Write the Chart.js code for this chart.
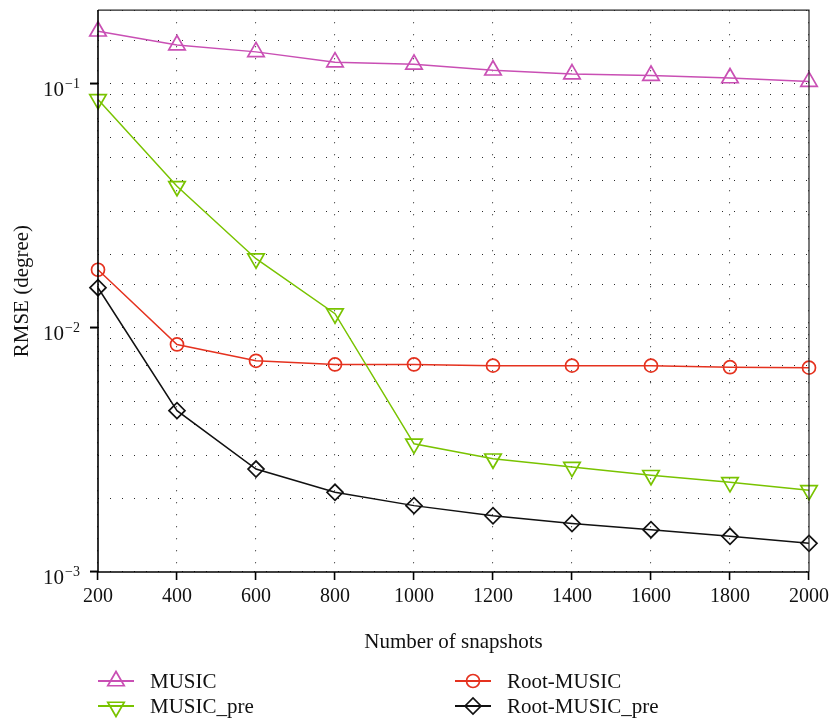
<!DOCTYPE html>
<html>
<head>
<meta charset="utf-8">
<title>RMSE vs number of snapshots</title>
<script src="https://cdn.jsdelivr.net/npm/chart.js@4.4.0/dist/chart.umd.min.js"></script>
<style>
    html, body { margin: 0; padding: 0; background: #fff; }
    #wrap { width: 834px; height: 720px; }
</style>
</head>
<body>
<div id="wrap"><canvas id="rmse-chart" width="834" height="720"></canvas></div>
<script>
// Datos: RMSE (grados) frente al número de snapshots
const snapshots = [200, 400, 600, 800, 1000, 1200, 1400, 1600, 1800, 2000];
const rmseMusic = [0.164, 0.144, 0.135, 0.1225, 0.120, 0.1135, 0.1095, 0.108, 0.1055, 0.102];
const rmseMusicPre = [0.0862, 0.038, 0.0192, 0.01143, 0.00335, 0.00291, 0.00269, 0.00249, 0.00233, 0.00216];
const rmseRootMusic = [0.0173, 0.00855, 0.00733, 0.00708, 0.00708, 0.0070, 0.0070, 0.0070, 0.0069, 0.00687];
const rmseRootMusicPre = [0.0146, 0.00458, 0.00264, 0.00212, 0.00187, 0.0017, 0.00158, 0.00149, 0.0014, 0.00131];

const seriesNames = ['MUSIC', 'MUSIC_pre', 'Root-MUSIC', 'Root-MUSIC_pre'];
const yDecades = [1e-3, 1e-2, 1e-1];
const yDecadeExponents = ['\u22123', '\u22122', '\u22121'];

const SERIF = '"Liberation Serif", "Times New Roman", serif';

const toPoints = (values) => values.map((v, i) => ({ x: snapshots[i], y: v }));

const isDecade = (v) => {
    const l = Math.log10(v);
    return Math.abs(l - Math.round(l)) < 1e-9;
};

const makeDataset = (label, values, color, pointStyle, radius, rotation) => ({
    label: label,
    data: toPoints(values),
    borderColor: color,
    borderWidth: 1.5,
    backgroundColor: 'rgba(0,0,0,0)',
    pointStyle: pointStyle,
    pointRadius: radius,
    pointRotation: rotation,
    pointBorderColor: color,
    pointBackgroundColor: 'rgba(0,0,0,0)',
    pointBorderWidth: 1.7,
    tension: 0,
    clip: false
});

const datasets = [
    makeDataset(seriesNames[0], rmseMusic, '#c94fb4', 'triangle', 9.5, 0),
    makeDataset(seriesNames[1], rmseMusicPre, '#79c300', 'triangle', 9.5, 180),
    makeDataset(seriesNames[2], rmseRootMusic, '#e5321f', 'circle', 6.5, 0),
    makeDataset(seriesNames[3], rmseRootMusicPre, '#111111', 'rectRot', 8, 0)
];

// Marco, etiquetas 10^n, títulos de ejes y leyenda en dos columnas
const decorPlugin = {
    id: 'decor',
    afterDraw(chart) {
        const ctx = chart.ctx;
        const area = chart.chartArea;
        const yScale = chart.scales.y;
        ctx.save();

        // marco
        ctx.strokeStyle = '#222';
        ctx.lineWidth = 1.2;
        ctx.beginPath();
        ctx.moveTo(area.left, area.top);
        ctx.lineTo(area.right, area.top);
        ctx.lineTo(area.right, area.bottom);
        ctx.stroke();
        ctx.strokeStyle = '#000';
        ctx.lineWidth = 1.6;
        ctx.beginPath();
        ctx.moveTo(area.left, area.top);
        ctx.lineTo(area.left, area.bottom);
        ctx.lineTo(area.right, area.bottom);
        ctx.stroke();

        // etiquetas del eje y
        ctx.fillStyle = '#111';
        ctx.textBaseline = 'alphabetic';
        yDecades.forEach((v, i) => {
            const py = yScale.getPixelForValue(v);
            ctx.font = '14px ' + SERIF;
            ctx.textAlign = 'right';
            const supW = ctx.measureText(yDecadeExponents[i]).width;
            ctx.fillText(yDecadeExponents[i], 80, py + 4);
            ctx.font = '21px ' + SERIF;
            ctx.fillText('10', 80 - supW - 1, py + 12);
        });

        // títulos
        ctx.font = '21px ' + SERIF;
        ctx.textAlign = 'center';
        ctx.fillText('Number of snapshots', (area.left + area.right) / 2, 648);
        ctx.save();
        ctx.translate(28, (area.top + area.bottom) / 2);
        ctx.rotate(-Math.PI / 2);
        ctx.fillText('RMSE (degree)', 0, 0);
        ctx.restore();

        // leyenda
        const cols = [area.left, 455];
        const rows = [681, 706];
        chart.data.datasets.forEach((ds, i) => {
            const x0 = cols[Math.floor(i / 2)];
            const y0 = rows[i % 2];
            ctx.strokeStyle = ds.borderColor;
            ctx.lineWidth = 2;
            ctx.beginPath();
            ctx.moveTo(x0, y0);
            ctx.lineTo(x0 + 36, y0);
            ctx.stroke();
            ctx.fillStyle = 'rgba(0,0,0,0)';
            ctx.lineWidth = ds.pointBorderWidth;
            Chart.helpers.drawPoint(ctx, {
                pointStyle: ds.pointStyle,
                radius: ds.pointRadius,
                rotation: ds.pointRotation,
                borderWidth: ds.pointBorderWidth
            }, x0 + 18, y0 + (ds.pointRotation === 180 ? 1 : 0));
            ctx.fillStyle = '#111';
            ctx.font = '21px ' + SERIF;
            ctx.textAlign = 'left';
            ctx.fillText(ds.label, x0 + 52, y0 + 7);
        });

        ctx.restore();
    }
};

const ctx = document.getElementById('rmse-chart').getContext('2d');
const rmseChart = new Chart(ctx, {
    type: 'line',
    data: { datasets: datasets },
    plugins: [decorPlugin],
    options: {
        responsive: false,
        animation: false,
        events: [],
        layout: { autoPadding: false, padding: { top: 9, right: 22, left: 0, bottom: 0 } },
        plugins: {
            legend: { display: false },
            tooltip: { enabled: false },
            title: { display: false }
        },
        scales: {
            x: {
                type: 'linear',
                min: 200,
                max: 2000,
                afterFit: (scale) => { scale.height = 148; },
                ticks: {
                    stepSize: 200,
                    autoSkip: false,
                    maxRotation: 0,
                    padding: 5,
                    color: '#111',
                    font: { family: SERIF, size: 20 },
                    callback: (value) => String(value)
                },
                grid: {
                    color: '#2a2a2a',
                    lineWidth: 1.1,
                    tickColor: '#000',
                    tickLength: 8,
                    tickWidth: 1.6,
                    tickBorderDash: []
                },
                border: { display: false, dash: [1, 11] }
            },
            y: {
                type: 'logarithmic',
                min: 0.001,
                max: 0.2,
                afterFit: (scale) => { scale.width = 98; },
                ticks: {
                    autoSkip: false,
                    callback: () => ''
                },
                grid: {
                    color: '#2a2a2a',
                    lineWidth: 1.1,
                    tickColor: (c) => (c.tick && isDecade(c.tick.value)) ? '#000' : 'rgba(0,0,0,0)',
                    tickLength: 8,
                    tickWidth: 2,
                    tickBorderDash: []
                },
                border: { display: false, dash: [1, 11] }
            }
        }
    }
});
</script>
</body>
</html>
